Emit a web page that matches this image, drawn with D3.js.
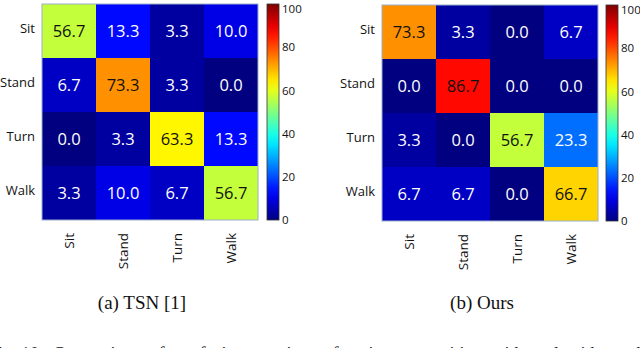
<!DOCTYPE html>
<html>
<head>
<meta charset="utf-8">
<script src="https://cdn.jsdelivr.net/npm/d3@7"></script>
<style>
  html, body { margin: 0; padding: 0; background: #fff; }
  svg { display: block; }
</style>
</head>
<body>
<div id="chart"></div>
<script>
const classes = ["Sit", "Stand", "Turn", "Walk"];
const tsnValues = [
  [56.7, 13.3, 3.3, 10.0],
  [6.7, 73.3, 3.3, 0.0],
  [0.0, 3.3, 63.3, 13.3],
  [3.3, 10.0, 6.7, 56.7]
];
const oursValues = [
  [73.3, 3.3, 0.0, 6.7],
  [0.0, 86.7, 0.0, 0.0],
  [3.3, 0.0, 56.7, 23.3],
  [6.7, 6.7, 0.0, 66.7]
];
const colorbarTicks = [0, 20, 40, 60, 80, 100];
const captions = ["(a) TSN [1]", "(b) Ours"];
const figureText = "Fig. 10.  Comparison  of  confusion  matrices  of  action  recognition  with  and  without  the  proposed  scheme.";

const width = 640;
const height = 348;

const svg = d3.select("#chart")
  .append("svg")
  .attr("width", width)
  .attr("height", height);

// matlab-style jet colormap
const jet = (v) => {
  const t = Math.max(0, Math.min(1, v / 100));
  const c = (x) => Math.round(255 * Math.max(0, Math.min(1, 1.5 - Math.abs(4 * t - x))));
  return `rgb(${c(3)}, ${c(2)}, ${c(1)})`;
};

const defs = svg.append("defs");
const grad = defs.append("linearGradient")
  .attr("id", "jetGrad")
  .attr("x1", 0).attr("y1", 1).attr("x2", 0).attr("y2", 0);
grad.selectAll("stop")
  .data(d3.range(0, 101, 5))
  .enter().append("stop")
  .attr("offset", (d) => `${d}%`)
  .attr("stop-color", (d) => jet(d));

const panels = [
  { values: tsnValues, x0: 42, y0: 4, cbx: 267, caption: captions[0], capX: 142 },
  { values: oursValues, x0: 382, y0: 5, cbx: 606, caption: captions[1], capX: 482 }
];

const size = 216;

panels.forEach((p) => {
  const g = svg.append("g");

  const x = d3.scaleBand().domain(classes).range([p.x0, p.x0 + size]);
  const y = d3.scaleBand().domain(classes).range([p.y0, p.y0 + size]);

  const cells = [];
  p.values.forEach((row, i) => {
    row.forEach((v, j) => cells.push({ r: classes[i], c: classes[j], v }));
  });

  g.selectAll("rect.cell")
    .data(cells)
    .enter().append("rect")
    .attr("class", "cell")
    .attr("x", (d) => x(d.c))
    .attr("y", (d) => y(d.r))
    .attr("width", x.bandwidth())
    .attr("height", y.bandwidth())
    .attr("fill", (d) => jet(d.v));

  g.append("rect")
    .attr("x", p.x0).attr("y", p.y0)
    .attr("width", size).attr("height", size)
    .attr("fill", "none")
    .attr("stroke", "#9ab0c8")
    .attr("stroke-width", 1);

  g.selectAll("text.val")
    .data(cells)
    .enter().append("text")
    .attr("class", "val")
    .attr("x", (d) => x(d.c) + x.bandwidth() / 2)
    .attr("y", (d) => y(d.r) + y.bandwidth() / 2 + 6)
    .attr("text-anchor", "middle")
    .attr("font-family", "Open Sans, sans-serif")
    .attr("font-size", 16.5)
    .attr("fill", (d) => (d.v > 45 ? "#111" : "#fff"))
    .text((d) => d.v.toFixed(1));

  // row labels
  g.selectAll("text.rowlab")
    .data(classes)
    .enter().append("text")
    .attr("class", "rowlab")
    .attr("x", p.x0 - 7)
    .attr("y", (d) => y(d) + y.bandwidth() / 2 + 2)
    .attr("text-anchor", "end")
    .attr("font-family", "Open Sans, sans-serif")
    .attr("font-size", 13)
    .attr("fill", "#111")
    .text((d) => d);

  // column labels, rotated
  g.selectAll("text.collab")
    .data(classes)
    .enter().append("text")
    .attr("class", "collab")
    .attr("transform", (d) => `translate(${x(d) + x.bandwidth() / 2 + 5}, ${p.y0 + size + 13}) rotate(-90)`)
    .attr("text-anchor", "end")
    .attr("font-family", "Open Sans, sans-serif")
    .attr("font-size", 13.5)
    .attr("fill", "#111")
    .text((d) => d);

  // colorbar
  const cy = d3.scaleLinear().domain([0, 100]).range([p.y0 + size, p.y0]);
  g.append("rect")
    .attr("x", p.cbx).attr("y", p.y0)
    .attr("width", 12).attr("height", size)
    .attr("fill", "url(#jetGrad)")
    .attr("stroke", "#333")
    .attr("stroke-width", 0.8);

  const axis = d3.axisRight(cy).tickValues(colorbarTicks).tickSize(0).tickPadding(3);
  const ax = g.append("g")
    .attr("transform", `translate(${p.cbx + 12}, 0)`)
    .call(axis);
  ax.select(".domain").remove();
  ax.selectAll("text")
    .attr("font-family", "Open Sans, sans-serif")
    .attr("font-size", 11.5)
    .attr("fill", "#111")
    .attr("dy", (d) => (d === 100 ? "0.75em" : "0.32em"));

  g.append("text")
    .attr("x", p.capX)
    .attr("y", 309)
    .attr("text-anchor", "middle")
    .attr("font-family", "Liberation Serif, Times New Roman, serif")
    .attr("font-size", 19)
    .attr("fill", "#111")
    .text(p.caption);
});

// figure caption line cut off at the bottom edge
svg.append("text")
  .attr("x", -12)
  .attr("y", 360)
  .attr("font-family", "Liberation Serif, Times New Roman, serif")
  .attr("font-size", 18)
  .attr("fill", "#111")
  .style("white-space", "pre")
  .text(figureText);
</script>
</body>
</html>
